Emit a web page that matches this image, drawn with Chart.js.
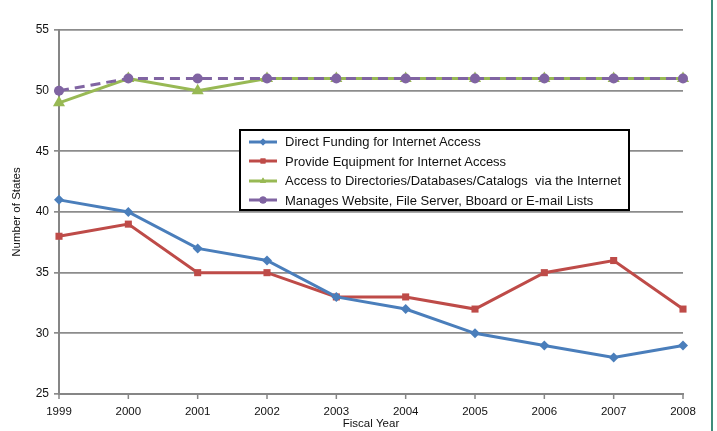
<!DOCTYPE html>
<html>
<head>
<meta charset="utf-8">
<script src="https://cdn.jsdelivr.net/npm/chart.js@4"></script>
<style>
  html, body { margin: 0; padding: 0; background: #fff; }
  #wrap { position: relative; width: 717px; height: 431px; }
  #edge { position: absolute; left: 711px; top: 0; width: 2px; height: 431px; background: #3f8c7a; }
  #legend {
    position: absolute; left: 239px; top: 129px; width: 387px; height: 77px;
    border: 2px solid #000; background: #fff; box-sizing: content-box;
    font-family: "Liberation Sans", Arial, sans-serif; font-size: 13px; color: #111;
    padding-top: 1px; white-space: pre;
  }
  .item { height: 19.5px; line-height: 19.5px; display: flex; align-items: center; }
  .item canvas { margin-left: 8px; margin-right: 8px; }
</style>
</head>
<body>
<div id="wrap">
  <canvas id="stateChart" width="717" height="431"></canvas>
  <div id="legend"></div>
  <div id="edge"></div>
</div>
<script>
// ------------------------------
// Data
// ------------------------------
const years = ['1999', '2000', '2001', '2002', '2003', '2004', '2005', '2006', '2007', '2008'];
const directFunding = [41, 40, 37, 36, 33, 32, 30, 29, 28, 29];
const provideEquipment = [38, 39, 35, 35, 33, 33, 32, 35, 36, 32];
const accessDirectories = [49, 51, 50, 51, 51, 51, 51, 51, 51, 51];
const managesWebsite = [50, 51, 51, 51, 51, 51, 51, 51, 51, 51];
const seriesNames = [
  'Direct Funding for Internet Access',
  'Provide Equipment for Internet Access',
  'Access to Directories/Databases/Catalogs  via the Internet',
  'Manages Website, File Server, Bboard or E-mail Lists'
];

const FONT = '"Liberation Sans", Arial, sans-serif';

const series = [
  { data: directFunding, color: '#4a7ebb', style: 'rectRot', radius: 5, dash: [] },
  { data: provideEquipment, color: '#be4b48', style: 'rect', radius: 5, dash: [] },
  { data: accessDirectories, color: '#98b954', style: 'triangle', radius: 7, dash: [] },
  { data: managesWebsite, color: '#8064a2', style: 'circle', radius: 5, dash: [10, 6] }
];

new Chart(document.getElementById('stateChart'), {
  type: 'line',
  data: {
    labels: years,
    datasets: series.map((s, i) => ({
      label: seriesNames[i],
      data: s.data,
      borderColor: s.color,
      backgroundColor: s.color,
      borderWidth: 3,
      borderDash: s.dash,
      pointStyle: s.style,
      pointRadius: s.radius,
      pointBorderWidth: 0,
      tension: 0,
      order: i === 3 ? 0 : 1
    }))
  },
  options: {
    responsive: false,
    animation: false,
    layout: { padding: { left: 10, right: 34, top: 30, bottom: 0 } },
    plugins: { legend: { display: false }, tooltip: { enabled: false } },
    scales: {
      x: {
        offset: false,
        afterFit: (scale) => { scale.height = 37; },
        grid: { display: false },
        border: { color: '#868686', width: 2 },
        ticks: { color: '#111', font: { family: FONT, size: 11.5 }, padding: 3, maxRotation: 0 },
        title: { display: true, text: 'Fiscal Year', color: '#111', font: { family: FONT, size: 11.5 }, padding: { top: 0, bottom: 0 } }
      },
      y: {
        min: 25, max: 55,
        afterFit: (scale) => { scale.width = 49; },
        grid: { color: '#8c8c8c', lineWidth: 1.7, tickLength: 5 },
        border: { color: '#868686', width: 2 },
        ticks: { stepSize: 5, color: '#111', font: { family: FONT, size: 12 }, padding: 5 },
        title: { display: true, text: 'Number of States', color: '#111', font: { family: FONT, size: 11.5 }, padding: { top: 0, bottom: 4 } }
      }
    }
  },
  plugins: [{
    // x axis tick marks pointing down
    id: 'xTicks',
    afterDraw(chart) {
      const ctx = chart.ctx, x = chart.scales.x, b = chart.chartArea.bottom;
      ctx.save();
      ctx.strokeStyle = '#868686';
      ctx.lineWidth = 1.5;
      years.forEach((_, i) => {
        const px = x.getPixelForValue(i);
        ctx.beginPath();
        ctx.moveTo(px, b);
        ctx.lineTo(px, b + 5);
        ctx.stroke();
      });
      ctx.restore();
    }
  }]
});

// ------------------------------
// HTML legend with line + marker samples
// ------------------------------
const legend = document.getElementById('legend');
series.forEach((s, i) => {
  const row = document.createElement('div');
  row.className = 'item';
  const c = document.createElement('canvas');
  c.width = 28; c.height = 12;
  const g = c.getContext('2d');
  g.strokeStyle = s.color; g.lineWidth = 3;
  g.beginPath(); g.moveTo(0, 6); g.lineTo(28, 6); g.stroke();
  g.fillStyle = s.color;
  Chart.helpers.drawPoint(g, { pointStyle: s.style, radius: 3.5, rotation: 0, borderWidth: 0 }, 14, 6);
  g.fill();
  row.appendChild(c);
  const t = document.createElement('span');
  t.textContent = seriesNames[i];
  row.appendChild(t);
  legend.appendChild(row);
});
</script>
</body>
</html>
